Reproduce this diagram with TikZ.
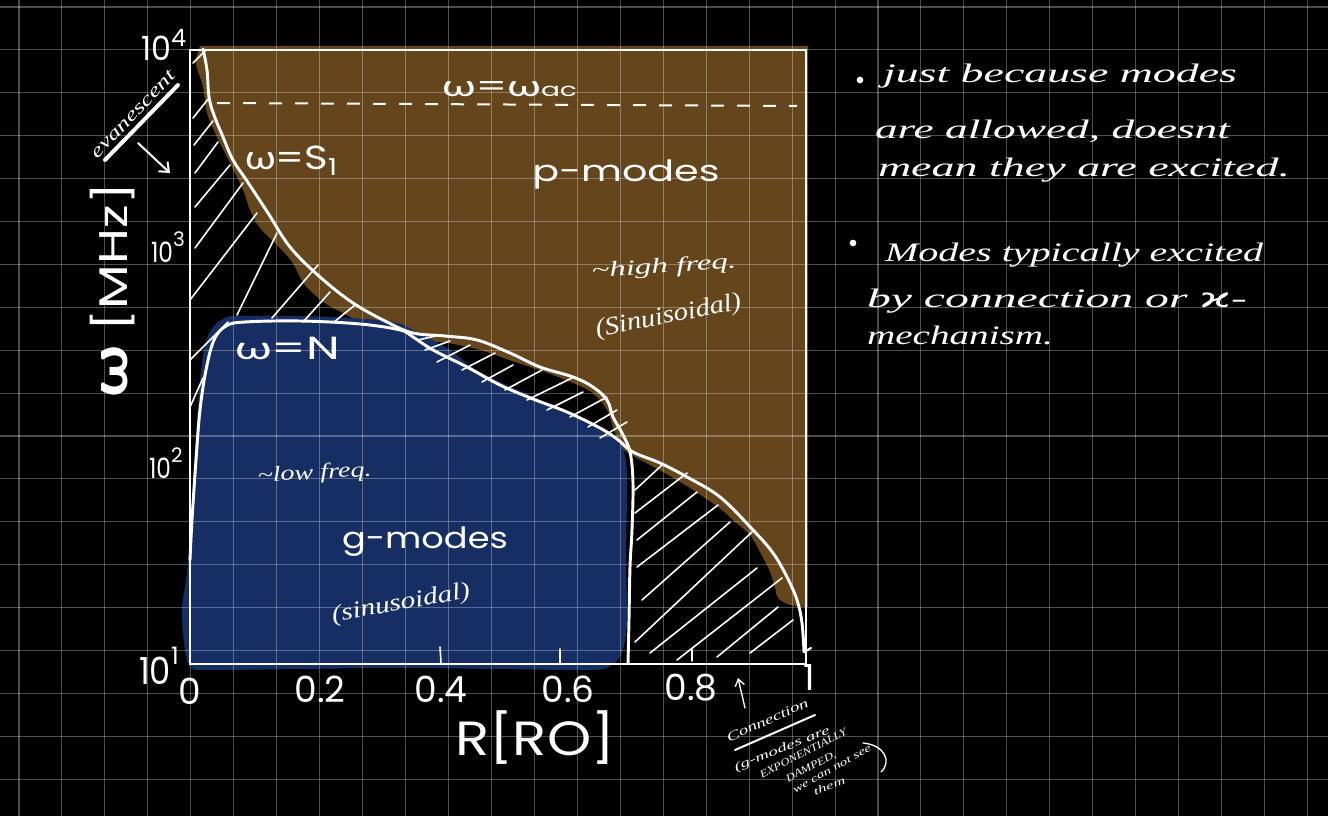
\documentclass[tikz,border=0pt]{standalone}
\usepackage{fontspec}
\usepackage{graphicx}
\setmainfont{Poppins}
\newfontfamily\grk{Lato}
\newfontfamily\cur{Liberation Serif}
\newfontfamily\djv{DejaVu Sans}
\usetikzlibrary{arrows.meta}
\newlength{\pxu}\setlength{\pxu}{0.75pt}
\newcommand{\sx}[2]{\resizebox{#1\pxu}{\height}{#2}}
\newcommand{\fsz}[1]{\fontsize{#1}{#1}\selectfont}
\definecolor{pbrown}{RGB}{100,69,28}
\definecolor{gblue}{RGB}{23,46,100}
\tikzset{
  gridl/.style={white, opacity=0.3, line width=0.8pt},
  wl/.style={white, line width=2.2pt, line cap=round, line join=round},
  hatchl/.style={white, line width=1.2pt, line cap=round},
  txt/.style={text=white, inner sep=0pt, outer sep=0pt},
  cursive/.style={txt, font=\cur\itshape},
}
\begin{document}
\begin{tikzpicture}[x=0.75pt, y=-0.75pt]
\fill[black] (0,0) rectangle (1328,816);
\useasboundingbox (0,0) rectangle (1328,816);

% brown region (p-modes)
\fill[pbrown] (200,46) -- (808,46) -- (808,607) -- plot[smooth, tension=0.6] coordinates {(808,607) (790,605) (778,598) (775,588) (770,572) (760,552) (750,535) (735,522) (722,510) (705,498) (690,488) (670,476) (650,465) (635,457) (622,448) (614,430) (607,410) (595,395) (580,386) (545,372) (515,362) (480,350) (447,343) (415,340) (390,333) (365,325) (345,314) (325,303) (305,285) (292,262) (277,245) (260,228) (250,210) (243,190) (230,163) (217,137) (207,113) (203,87) (196,63) (200,46)} -- cycle;

% blue region (g-modes)
\fill[gblue] plot[smooth cycle, tension=0.6] coordinates {(237,316) (300,316) (350,318) (393,322) (413,330) (450,350) (480,372) (547,403) (600,428) (615,438) (624,452) (627,480) (626,560) (627,620) (622,652) (610,666) (590,670) (500,669) (400,668) (300,669) (210,670) (192,668) (185,650) (182,610) (186,580) (190,540) (193,480) (197,420) (200,380) (205,345) (213,327) (225,318)};

% grid
\foreach \i in {0,...,30} \draw[gridl] ({19+42.95*\i},0) -- ({19+42.95*\i},816);
\foreach \j in {0,...,18} \draw[gridl] (0,{7+42.9*\j}) -- (1328,{7+42.9*\j});

% hatching, evanescent region left
\foreach \a/\b/\c/\d in {193/63/205/51, 193/118/209/98, 194/145/213/121, 195/173/218/142, 195/207/230/165, 195/248/243/183, 190/300/257/213, 190/360/228/322, 190/407/203/378, 237/315/277/233, 272/318/318/265, 303/322/330/292, 334/322/355/305}
  \draw[hatchl] (\a,\b) -- (\c,\d);
% hatching, middle band
\foreach \a/\b/\c/\d in {418/340/440/335, 425/350/450/341, 437/362/470/345, 462/370/495/353, 482/382/513/365, 505/390/542/370, 527/400/572/378, 547/410/583/392, 570/417/607/397, 588/427/617/410, 600/438/627/422}
  \draw[hatchl] (\a,\b) -- (\c,\d);
% hatching, lower right
\foreach \a/\b/\c/\d in {635/490/662/465, 635/513/687/473, 637/540/697/492, 637/567/718/505, 642/600/730/522, 635/642/752/532, 650/653/757/568, 677/660/782/578, 717/657/778/607, 750/653/793/620}
  \draw[hatchl] (\a,\b) -- (\c,\d);

% box
\draw[white, line width=1.5pt] (190,50) rectangle (806,664);

% S1 curve
\draw[wl] plot[smooth, tension=0.6] coordinates {(203,49) (207,70) (209,97) (214,115) (223,137) (233,160) (247,181) (268,213) (290,247) (320,277) (353,303) (387,322) (413,333) (445,336) (477,340) (510,353) (540,367) (573,377) (593,387) (607,400) (613,417) (622,433) (630,452) (633,483) (632,530) (630,567) (629,620) (628,664)};
% N curve
\draw[wl] plot[smooth, tension=0.6] coordinates {(190,560) (192,520) (196,460) (200,410) (206,370) (214,340) (226,326) (245,322) (300,321) (360,324) (400,330) (413,337) (433,350) (467,367) (500,385) (533,399) (567,412) (600,428) (617,439) (633,452) (660,463) (687,477) (720,497) (753,530) (773,553) (787,577) (797,600) (802,623) (804,652)};
\draw[wl, line width=1.6pt] (804,652) -- (811,648);

% omega_ac dashed line
\draw[white, line width=1.5pt, dash pattern=on 9.75pt off 9.75pt] (217,103) -- (797,106);

% ticks
\draw[hatchl] (440,647) -- (441,663);
\draw[hatchl] (560,649) -- (560,663);
\draw[hatchl] (692,649) -- (692,661);

% region labels
\node[txt, anchor=base] (pm) at (626,182) {\fsz{22}\sx{187}{p-modes}};
\node[txt, anchor=base] (gm) at (425,548) {\fsz{22}\sx{166}{g-modes}};
\node[txt, anchor=base west] (s1) at (245,170) {\fsz{25}\sx{93}{{\grk ω}=S\textsubscript{1}}};
\node[txt, anchor=base west] (wn) at (235,360) {\fsz{24}\sx{105}{{\grk ω}=N}};
\node[txt, anchor=base west] (wac) at (442,97) {\fsz{22}\sx{135}{{\grk ω}={\grk ω}{\fsz{14}ac}}};

\node[cursive, anchor=base west, rotate=4] (hf) at (592,278) {\fsz{16}\sx{145}{\textasciitilde high freq.}};
\node[cursive, anchor=base west, rotate=11] (hs) at (597,337) {\fsz{19}\sx{148}{(Sinuisoidal)}};
\node[cursive, anchor=base west, rotate=3] (lf) at (258,482) {\fsz{16}\sx{114}{\textasciitilde low freq.}};
\node[cursive, anchor=base west, rotate=10] (ls) at (333,622) {\fsz{18}\sx{140}{(sinusoidal)}};

% axes labels
\node[txt, rotate=90] (yl) at (113,290) {\fsz{30}\sx{214}{{\grk\bfseries\fsz{38}ω} [MHz]}};
\node[txt, anchor=base] (xl) at (535,755) {\fsz{36}\sx{160}{R[RO]}};
\node[txt, anchor=base] (t0) at (190,704) {\fsz{27}0};
\node[txt, anchor=base] (t2) at (320,702) {\fsz{27}0.2};
\node[txt, anchor=base] (t4) at (441,702) {\fsz{27}0.4};
\node[txt, anchor=base] (t6) at (568,702) {\fsz{27}0.6};
\node[txt, anchor=base] (t8) at (691,700) {\fsz{27}0.8};
\node[txt, anchor=base] (t10) at (809,690) {\fsz{27}1};
\node[txt, anchor=base west] (y4) at (141,61) {\fsz{25}\sx{30}{10}\raisebox{14\pxu}{\fsz{18}4}};
\node[txt, anchor=base west] (y3) at (151,263) {\fsz{21}\sx{22}{10}\raisebox{16\pxu}{\fsz{15}3}};
\node[txt, anchor=base west] (y2) at (149,478) {\fsz{21}\sx{22}{10}\raisebox{15\pxu}{\fsz{15}2}};
\node[txt, anchor=base west] (y1) at (139,684) {\fsz{28}\sx{32}{10}\raisebox{20\pxu}{\fsz{18}1}};

% evanescent
\node[cursive, anchor=base, rotate=46] (ev) at (137,118) {\fsz{14}\sx{115}{evanescent}};
\coordinate (u1) at (105,160); \coordinate (u2) at (178,85);
\draw[white, line width=3pt, line cap=round] (u1) -- (u2);
\coordinate (a1) at (138,143); \coordinate (a2) at (170,173);
\draw[white, line width=1.5pt, line cap=round, -{Straight Barb[length=6pt, width=10pt]}] (a1) -- (a2);

% connection note
\node[cursive, anchor=base west, rotate=24] (cn) at (729,742) {\fsz{10}\sx{88}{Connection}};
\coordinate (c1) at (735,750); \coordinate (c2) at (815,715);
\draw[white, line width=1.5pt, line cap=round] (c1) -- (c2);
\coordinate (c3) at (745,708); \coordinate (c4) at (738,678);
\draw[white, line width=1pt, line cap=round, -{Straight Barb[length=5pt, width=7pt]}] (c3) -- (c4);
\node[cursive, anchor=base west, rotate=22] (p1) at (736,771) {\fsz{9}\sx{102}{(g-modes are}};
\node[cursive, anchor=base west, rotate=27] (p2) at (762,778) {\fsz{8}\sx{96}{EXPONENTIALLY}};
\node[cursive, anchor=base west, rotate=27] (p3) at (788,782) {\fsz{8}\sx{55}{DAMPED,}};
\node[cursive, anchor=base west, rotate=29] (p4) at (795,793) {\fsz{8}\sx{88}{we can not see}};
\node[cursive, anchor=base west, rotate=20] (p5) at (815,795) {\fsz{8}\sx{33}{them}};
\coordinate (q1) at (863,743); \coordinate (q2) at (881,772);
\draw[white, line width=1pt, line cap=round] (q1) .. controls (885,745) and (892,762) .. (q2);

% notes
\fill[white] (860,80) circle[radius=2.5pt];
\fill[white] (853,243) circle[radius=2.5pt];
\node[cursive, anchor=base west] (n1) at (883,83) {\fsz{20}\sx{354}{just because modes}};
\node[cursive, anchor=base west] (n2) at (875,139) {\fsz{20}\sx{355}{are allowed, doesnt}};
\node[cursive, anchor=base west] (n3) at (878,177) {\fsz{20}\sx{412}{mean they are excited.}};
\node[cursive, anchor=base west] (n4) at (885,262) {\fsz{20}\sx{378}{Modes typically excited}};
\node[cursive, anchor=base west] (n5) at (867,308) {\fsz{20}\sx{380}{by connection or {\djv\upshape ϰ}-}};
\node[cursive, anchor=base west] (n6) at (867,345) {\fsz{20}\sx{186}{mechanism.}};
\end{tikzpicture}
\end{document}
